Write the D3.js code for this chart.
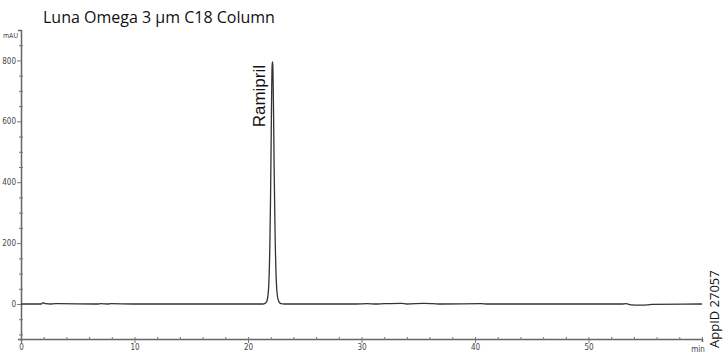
<!DOCTYPE html>
<html>
<head>
<meta charset="utf-8">
<script src="https://cdn.jsdelivr.net/npm/d3@7"></script>
<style>
  body { margin: 0; background: #fff; }
  svg { display: block; }
  .tick text { font-family: "DejaVu Sans Condensed", "Liberation Sans Narrow", sans-serif; font-size: 8px; fill: #444; }
</style>
</head>
<body>
<div class="viz"></div>
<script>
var width = 725, height = 353;

// retention time (min) and detector response (mAU)
var times = [0, 1.8, 1.95, 2.05, 2.2, 2.6, 3.0, 6.8, 7.0, 7.7, 7.9, 10.0, 12.2, 17.3, 21.3, 21.5, 21.65, 21.75, 21.85, 21.92, 21.98, 22.03, 22.07, 22.10, 22.13, 22.16, 22.19, 22.22, 22.26, 22.30, 22.35, 22.40, 22.46, 22.53, 22.62, 22.75, 22.9, 23.2, 25.0, 27.0, 29.5, 30.5, 31.2, 32.0, 33.5, 34.0, 35.5, 36.3, 37.0, 40.6, 41.0, 53.0, 53.3, 53.8, 54.5, 55.2, 55.6, 60];
var mAU =   [0, 0,   4,    2,    1,   0,   1,   0,   1,   0,   1,   0,    0,    0,    0,    2,     8,     25,    80,    180,   330,   500,   650,   740,   785,   795,   780,   720,   600,   460,   320,   200,   110,   50,    20,    6,     1,    0,    0,    0,    0,    1,    0,    1,    2,    0,    2,    1,    0,    1,    0,    0,    1,    -3,   -4,   -3,   -1,   0];

var yTicks = [0, 200, 400, 600, 800];
var xTicks = [0, 10, 20, 30, 40, 50];
var title = "Luna Omega 3 µm C18 Column";
var peakName = "Ramipril";
var appId = "AppID 27057";

var svg = d3.select('.viz').append('svg')
    .attr('width', width)
    .attr('height', height);

var x = d3.scaleLinear().domain([0, 60]).range([21, 702]);
var y = d3.scaleLinear().domain([-115, 900]).range([339, 30]);

// y axis
var yAxis = d3.axisLeft(y)
    .tickValues(d3.range(-100, 900, 50))
    .tickSize(3)
    .tickFormat(function (d) { return yTicks.indexOf(d) >= 0 ? d : ''; });
var gy = svg.append('g')
    .attr('transform', 'translate(' + x(0) + ',0)')
    .call(yAxis);
gy.selectAll('.tick line').attr('x2', function (d) { return yTicks.indexOf(d) >= 0 ? 0 : 2; })
    .attr('x1', function (d) { return yTicks.indexOf(d) >= 0 ? -4 : -2; })
    .attr('stroke', '#777');
gy.select('.domain').attr('stroke', '#666').attr('stroke-width', 1.5);
gy.selectAll('.tick text').attr('x', -5);

// x axis
var xAxis = d3.axisBottom(x)
    .tickValues(d3.range(0, 61, 2))
    .tickSize(3)
    .tickFormat(function (d) { return xTicks.indexOf(d) >= 0 ? d : ''; });
var gx = svg.append('g')
    .attr('transform', 'translate(0,' + y(-115) + ')')
    .call(xAxis);
gx.selectAll('.tick line').attr('y1', -2).attr('y2', function (d) { return xTicks.indexOf(d) >= 0 ? 4 : 1; })
    .attr('stroke', '#777');
gx.select('.domain').attr('stroke', '#666').attr('stroke-width', 1.5);
gx.selectAll('.tick text').attr('y', 5);

svg.append('text')
    .attr('x', x(60) - 4)
    .attr('y', y(-115) + 13)
    .attr('text-anchor', 'middle')
    .style('font-family', '"DejaVu Sans Condensed", sans-serif')
    .style('font-size', '8px')
    .attr('fill', '#444')
    .text('min');

svg.append('text')
    .attr('x', x(0) - 3)
    .attr('y', y(900) + 8)
    .attr('text-anchor', 'end')
    .style('font-family', '"DejaVu Sans Condensed", sans-serif')
    .style('font-size', '7px')
    .attr('fill', '#444')
    .text('mAU');

// trace
var pts = times.map(function (t, i) { return [t, mAU[i]]; });
var line = d3.line()
    .x(function (d) { return x(d[0]); })
    .y(function (d) { return y(d[1]); })
    .curve(d3.curveMonotoneX);

svg.append('path')
    .datum(pts)
    .attr('d', line)
    .attr('fill', 'none')
    .attr('stroke', '#333')
    .attr('stroke-width', 1.3);

// labels
svg.append('text')
    .attr('x', 43)
    .attr('y', 23)
    .style('font-family', '"Open Sans", sans-serif')
    .style('font-size', '16px')
    .attr('fill', '#111')
    .text(title);

svg.append('text')
    .attr('transform', 'translate(265,65) rotate(-90)')
    .attr('text-anchor', 'end')
    .style('font-family', '"Liberation Sans", Arial, sans-serif')
    .style('font-size', '17px')
    .attr('fill', '#111')
    .text(peakName);

svg.append('text')
    .attr('transform', 'translate(719,348) rotate(-90)')
    .style('font-family', '"Open Sans", sans-serif')
    .style('font-size', '13px')
    .attr('fill', '#111')
    .text(appId);
</script>
</body>
</html>
